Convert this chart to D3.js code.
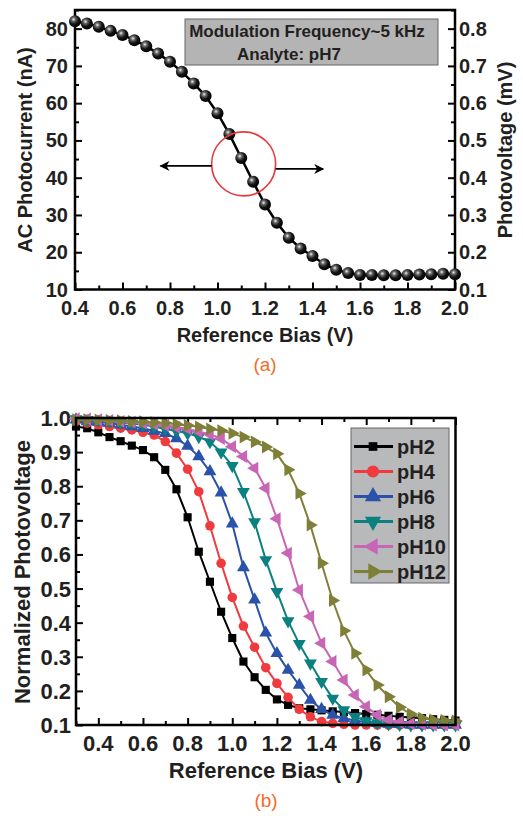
<!DOCTYPE html>
<html>
<head>
<meta charset="utf-8">
<script src="https://cdn.jsdelivr.net/npm/d3@7"></script>
<style>
  html, body { margin: 0; padding: 0; background: #fff; }
  text { font-family: "Liberation Sans", Arial, sans-serif; fill: #231f20; }
</style>
</head>
<body>
<div id="chart"></div>
<script>
const width = 523
const height = 816

// ---- panel (a) data ----
const biasA = [0.4, 0.45, 0.5, 0.55, 0.6, 0.65, 0.7, 0.75, 0.8, 0.85, 0.9, 0.95, 1.0, 1.05, 1.1, 1.15,
  1.2, 1.25, 1.3, 1.35, 1.4, 1.45, 1.5, 1.55, 1.6, 1.65, 1.7, 1.75, 1.8, 1.85, 1.9, 1.95, 2.0]
const photocurrent = [82.0, 81.4, 80.5, 79.4, 78.3, 76.9, 75.3, 73.3, 71.1, 68.4, 65.3, 61.9, 57.3, 51.7, 45.3, 38.9,
  32.8, 27.9, 23.9, 21.0, 19.0, 16.8, 15.3, 14.4, 13.9, 13.9, 13.8, 13.8, 13.9, 14.0, 14.1, 14.2, 14.1]
const ticksA_x = [0.4, 0.6, 0.8, 1.0, 1.2, 1.4, 1.6, 1.8, 2.0]
const ticksA_left = [10, 20, 30, 40, 50, 60, 70, 80]
const ticksA_right = [0.1, 0.2, 0.3, 0.4, 0.5, 0.6, 0.7, 0.8]

// ---- panel (b) data ----
const biasB = [0.3, 0.35, 0.4, 0.45, 0.5, 0.55, 0.6, 0.65, 0.7, 0.75, 0.8, 0.85, 0.9, 0.95, 1.0, 1.05, 1.1, 1.15,
  1.2, 1.25, 1.3, 1.35, 1.4, 1.45, 1.5, 1.55, 1.6, 1.65, 1.7, 1.75, 1.8, 1.85, 1.9, 1.95, 2.0]
const phLabels = ['pH2', 'pH4', 'pH6', 'pH8', 'pH10', 'pH12']
const pH2 = [0.975, 0.97, 0.958, 0.944, 0.932, 0.919, 0.906, 0.885, 0.848, 0.791, 0.709, 0.608, 0.52, 0.432, 0.355,
  0.286, 0.24, 0.203, 0.175, 0.159, 0.149, 0.146, 0.143, 0.14, 0.138, 0.135, 0.132, 0.13, 0.127, 0.124, 0.122, 0.12, 0.117, 0.115, 0.113]
const pH4 = [0.99, 0.985, 0.98, 0.975, 0.97, 0.965, 0.958, 0.95, 0.931, 0.897, 0.85, 0.784, 0.684, 0.574, 0.474,
  0.39, 0.328, 0.268, 0.222, 0.181, 0.146, 0.124, 0.11, 0.105, 0.102, 0.1, 0.1, 0.1, 0.1, 0.1, 0.1, 0.1, 0.1, 0.1, 0.1]
const pH6 = [0.995, 0.99, 0.988, 0.985, 0.98, 0.975, 0.97, 0.962, 0.955, 0.94, 0.918, 0.887, 0.843, 0.781, 0.69,
  0.562, 0.467, 0.37, 0.31, 0.261, 0.217, 0.173, 0.146, 0.129, 0.12, 0.113, 0.108, 0.105, 0.103, 0.102, 0.1, 0.1, 0.1, 0.1, 0.1]
const pH8 = [0.997, 0.995, 0.993, 0.99, 0.987, 0.984, 0.98, 0.975, 0.968, 0.962, 0.955, 0.945, 0.93, 0.9, 0.86,
  0.784, 0.695, 0.584, 0.491, 0.405, 0.338, 0.281, 0.227, 0.178, 0.144, 0.124, 0.112, 0.106, 0.103, 0.101, 0.1, 0.1, 0.1, 0.1, 0.1]
const pH10 = [0.998, 0.997, 0.995, 0.993, 0.99, 0.988, 0.985, 0.982, 0.978, 0.973, 0.968, 0.96, 0.952, 0.94, 0.916,
  0.887, 0.853, 0.794, 0.705, 0.604, 0.496, 0.418, 0.34, 0.286, 0.232, 0.188, 0.154, 0.129, 0.115, 0.108, 0.104, 0.102, 0.1, 0.1, 0.1]
const pH12 = [0.995, 0.995, 0.994, 0.993, 0.992, 0.99, 0.989, 0.987, 0.985, 0.982, 0.978, 0.974, 0.968, 0.963, 0.955,
  0.944, 0.93, 0.915, 0.895, 0.848, 0.779, 0.686, 0.574, 0.465, 0.376, 0.31, 0.261, 0.217, 0.183, 0.152, 0.132, 0.12, 0.115, 0.113, 0.112]
const seriesB = [pH2, pH4, pH6, pH8, pH10, pH12]
const colorsB = ['#000000', '#ef3a3e', '#2a52a8', '#0b8080', '#c866b6', '#7f7f38']
const symbolsB = [
  { type: d3.symbolSquare, rot: 0, size: 66 },
  { type: d3.symbolCircle, rot: 0, size: 72 },
  { type: d3.symbolTriangle, rot: 0, size: 72 },
  { type: d3.symbolTriangle, rot: 180, size: 72 },
  { type: d3.symbolTriangle, rot: -90, size: 72 },
  { type: d3.symbolTriangle, rot: 90, size: 72 }
]
const ticksB_x = [0.4, 0.6, 0.8, 1.0, 1.2, 1.4, 1.6, 1.8, 2.0]
const ticksB_y = [0.1, 0.2, 0.3, 0.4, 0.5, 0.6, 0.7, 0.8, 0.9, 1.0]

const svg = d3.select('#chart')
  .append('svg')
  .attr('width', width)
  .attr('height', height)

const defs = svg.append('defs')
const grad = defs.append('radialGradient')
  .attr('id', 'ball')
  .attr('cx', '38%').attr('cy', '35%').attr('r', '65%')
grad.append('stop').attr('offset', '0%').attr('stop-color', '#f2f2f2')
grad.append('stop').attr('offset', '25%').attr('stop-color', '#6a6a6a')
grad.append('stop').attr('offset', '60%').attr('stop-color', '#151515')
grad.append('stop').attr('offset', '100%').attr('stop-color', '#000')

defs.append('marker')
  .attr('id', 'arrow')
  .attr('viewBox', '0 0 10 10')
  .attr('refX', 9).attr('refY', 5)
  .attr('markerWidth', 15).attr('markerHeight', 10)
  .attr('markerUnits', 'userSpaceOnUse')
  .attr('orient', 'auto')
  .append('path')
  .attr('d', 'M0,0 L10,5 L0,10 L3,5 Z')
  .attr('fill', '#000')

// generic inward-tick helper
function ticks (axisFn, scale, values, size, g) {
  g.call(axisFn(scale).tickValues(values).tickSizeInner(-size).tickSizeOuter(0).tickFormat(''))
  g.select('.domain').remove()
  g.selectAll('line').attr('stroke', '#000').attr('stroke-width', 2)
}

// =================== panel (a) ===================
const xA = d3.scaleLinear().domain([0.4, 2.0]).range([75, 455])
const yA = d3.scaleLinear().domain([10, 85]).range([289.5, 10])
const yA2 = d3.scaleLinear().domain([0.1, 0.85]).range([289.5, 10])

const gA = svg.append('g')

// minor + major ticks
ticks(d3.axisBottom, xA, d3.range(0.5, 2.0, 0.2), 4, gA.append('g').attr('transform', 'translate(0,289.5)'))
ticks(d3.axisBottom, xA, ticksA_x, 7, gA.append('g').attr('transform', 'translate(0,289.5)'))
ticks(d3.axisLeft, yA, [15, 25, 35, 45, 55, 65, 75, 85], 4, gA.append('g').attr('transform', 'translate(75,0)'))
ticks(d3.axisLeft, yA, ticksA_left, 7, gA.append('g').attr('transform', 'translate(75,0)'))
ticks(d3.axisRight, yA2, [0.15, 0.25, 0.35, 0.45, 0.55, 0.65, 0.75, 0.85], 4, gA.append('g').attr('transform', 'translate(455,0)'))
ticks(d3.axisRight, yA2, ticksA_right, 7, gA.append('g').attr('transform', 'translate(455,0)'))

gA.append('rect')
  .attr('x', 75).attr('y', 10)
  .attr('width', 380).attr('height', 279.5)
  .attr('fill', 'none').attr('stroke', '#000').attr('stroke-width', 2.5)

// tick labels
gA.selectAll('.xlabA').data(ticksA_x).join('text')
  .attr('x', d => xA(d)).attr('y', 315)
  .attr('text-anchor', 'middle')
  .attr('font-size', 20).attr('font-weight', 'bold')
  .text(d => d.toFixed(1))
gA.selectAll('.ylabA').data(ticksA_left).join('text')
  .attr('x', 68).attr('y', d => yA(d) + 7)
  .attr('text-anchor', 'end')
  .attr('font-size', 20).attr('font-weight', 'bold')
  .text(d => d)
gA.selectAll('.y2labA').data(ticksA_right).join('text')
  .attr('x', 459).attr('y', d => yA2(d) + 7)
  .attr('text-anchor', 'start')
  .attr('font-size', 20).attr('font-weight', 'bold')
  .text(d => d.toFixed(1))

// titles
gA.append('text')
  .attr('transform', 'translate(32,150) rotate(-90)')
  .attr('text-anchor', 'middle')
  .attr('font-size', 20).attr('font-weight', 'bold')
  .text('AC Photocurrent (nA)')
gA.append('text')
  .attr('transform', 'translate(512,150) rotate(-90)')
  .attr('text-anchor', 'middle')
  .attr('font-size', 20).attr('font-weight', 'bold')
  .text('Photovoltage (mV)')
gA.append('text')
  .attr('x', 265).attr('y', 342)
  .attr('text-anchor', 'middle')
  .attr('font-size', 20).attr('font-weight', 'bold')
  .text('Reference Bias (V)')
gA.append('text')
  .attr('x', 265).attr('y', 371)
  .attr('text-anchor', 'middle')
  .attr('font-size', 19)
  .style('fill', '#f26b2a')
  .text('(a)')

// annotation box
gA.append('rect')
  .attr('x', 185).attr('y', 19)
  .attr('width', 253).attr('height', 46)
  .attr('fill', '#b4b4b4').attr('stroke', '#666').attr('stroke-width', 1)
gA.append('text')
  .attr('x', 307).attr('y', 37)
  .attr('text-anchor', 'middle')
  .attr('font-size', 17).attr('font-weight', 'bold')
  .text('Modulation Frequency~5 kHz')
gA.append('text')
  .attr('x', 289).attr('y', 60)
  .attr('text-anchor', 'middle')
  .attr('font-size', 17).attr('font-weight', 'bold')
  .text('Analyte: pH7')

// data line + balls
const dataA = biasA.map((b, i) => ({ x: b, y: photocurrent[i] }))
gA.append('path')
  .datum(dataA)
  .attr('fill', 'none').attr('stroke', '#000').attr('stroke-width', 2.5)
  .attr('d', d3.line().x(d => xA(d.x)).y(d => yA(d.y)))
gA.selectAll('.ball').data(dataA).join('circle')
  .attr('cx', d => xA(d.x)).attr('cy', d => yA(d.y))
  .attr('r', 6)
  .attr('fill', 'url(#ball)')

// circle + arrows
const cx = xA(1.11)
const cy = yA(43.7)
gA.append('circle')
  .attr('cx', cx).attr('cy', cy).attr('r', 32)
  .attr('fill', 'none').attr('stroke', '#e8393c').attr('stroke-width', 1.6)
gA.append('line')
  .attr('x1', cx - 32).attr('y1', cy + 2).attr('x2', xA(0.76)).attr('y2', cy + 2)
  .attr('stroke', '#000').attr('stroke-width', 1.8)
  .attr('marker-end', 'url(#arrow)')
gA.append('line')
  .attr('x1', cx + 32).attr('y1', cy + 5).attr('x2', xA(1.445)).attr('y2', cy + 5)
  .attr('stroke', '#000').attr('stroke-width', 1.8)
  .attr('marker-end', 'url(#arrow)')

// =================== panel (b) ===================
const xB = d3.scaleLinear().domain([0.3, 2.0]).range([76, 455.5])
const yB = d3.scaleLinear().domain([0.1, 1.0]).range([725, 418])

const gB = svg.append('g')

ticks(d3.axisBottom, xB, d3.range(0.3, 2.0, 0.2), 4, gB.append('g').attr('transform', 'translate(0,725)'))
ticks(d3.axisBottom, xB, ticksB_x, 7, gB.append('g').attr('transform', 'translate(0,725)'))
ticks(d3.axisTop, xB, d3.range(0.3, 2.0, 0.2), 4, gB.append('g').attr('transform', 'translate(0,418)'))
ticks(d3.axisTop, xB, ticksB_x, 7, gB.append('g').attr('transform', 'translate(0,418)'))
ticks(d3.axisLeft, yB, d3.range(0.15, 1.0, 0.1), 4, gB.append('g').attr('transform', 'translate(76,0)'))
ticks(d3.axisLeft, yB, ticksB_y, 7, gB.append('g').attr('transform', 'translate(76,0)'))

gB.selectAll('.xlabB').data(ticksB_x).join('text')
  .attr('x', d => xB(d)).attr('y', 751)
  .attr('text-anchor', 'middle')
  .attr('font-size', 22).attr('font-weight', 'bold')
  .text(d => d.toFixed(1))
gB.selectAll('.ylabB').data(ticksB_y).join('text')
  .attr('x', 71).attr('y', d => yB(d) + 8)
  .attr('text-anchor', 'end')
  .attr('font-size', 22).attr('font-weight', 'bold')
  .text(d => d.toFixed(1))

gB.append('text')
  .attr('transform', 'translate(30,572) rotate(-90)')
  .attr('text-anchor', 'middle')
  .attr('font-size', 22).attr('font-weight', 'bold')
  .text('Normalized Photovoltage')
gB.append('text')
  .attr('x', 266).attr('y', 778)
  .attr('text-anchor', 'middle')
  .attr('font-size', 22).attr('font-weight', 'bold')
  .text('Reference Bias (V)')
gB.append('text')
  .attr('x', 266).attr('y', 807)
  .attr('text-anchor', 'middle')
  .attr('font-size', 19)
  .style('fill', '#f26b2a')
  .text('(b)')

const lineB = d3.line().x(d => xB(d.x)).y(d => yB(d.y))
seriesB.forEach((vals, k) => {
  const pts = biasB.map((b, i) => ({ x: b, y: vals[i] }))
  const g = gB.append('g')
  g.append('path')
    .datum(pts)
    .attr('fill', 'none').attr('stroke', colorsB[k]).attr('stroke-width', 2)
    .attr('d', lineB)
  const sym = d3.symbol().type(symbolsB[k].type).size(symbolsB[k].size)
  g.selectAll('path.pt').data(pts).join('path')
    .attr('class', 'pt')
    .attr('d', sym)
    .attr('transform', d => `translate(${xB(d.x)},${yB(d.y)}) rotate(${symbolsB[k].rot})`)
    .attr('fill', colorsB[k])
})

gB.append('rect')
  .attr('x', 76).attr('y', 418)
  .attr('width', 379.5).attr('height', 307)
  .attr('fill', 'none').attr('stroke', '#000').attr('stroke-width', 2.5)

// legend
const legend = gB.append('g')
legend.append('rect')
  .attr('x', 351).attr('y', 428)
  .attr('width', 98).attr('height', 155)
  .attr('fill', '#b8b9bb').attr('stroke', '#666').attr('stroke-width', 1)
phLabels.forEach((lab, k) => {
  const y = 446.5 + k * 25
  legend.append('line')
    .attr('x1', 354).attr('x2', 393).attr('y1', y).attr('y2', y)
    .attr('stroke', colorsB[k]).attr('stroke-width', 3)
  legend.append('path')
    .attr('d', d3.symbol().type(symbolsB[k].type).size(k === 0 ? 75 : 115))
    .attr('transform', `translate(373,${y}) rotate(${symbolsB[k].rot})`)
    .attr('fill', colorsB[k])
  legend.append('text')
    .attr('x', 397).attr('y', y + 7)
    .attr('font-size', 20).attr('font-weight', 'bold')
    .text(lab)
})
</script>
</body>
</html>
